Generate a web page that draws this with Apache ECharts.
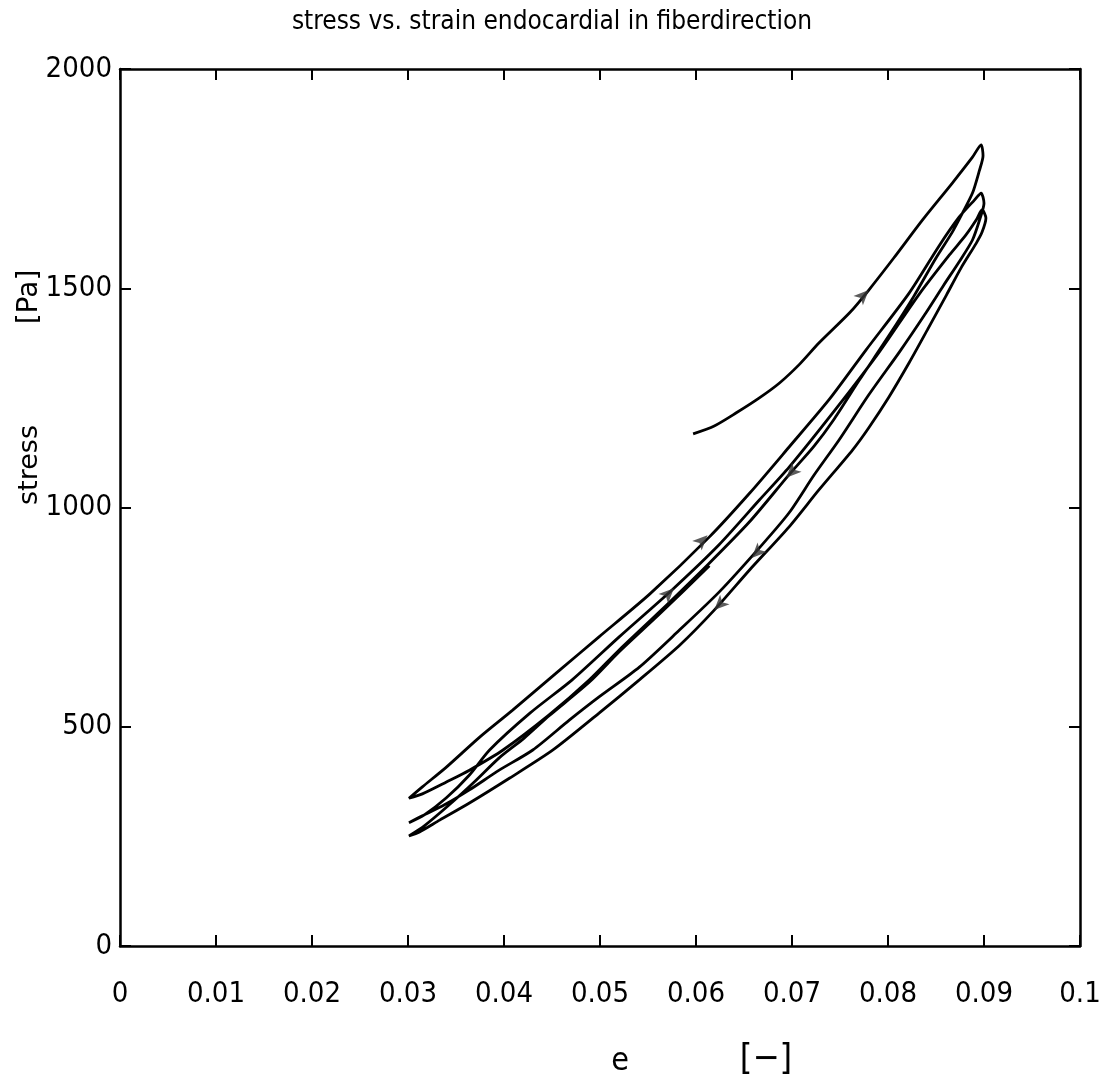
<!DOCTYPE html>
<html>
<head>
<meta charset="utf-8">
<script src="https://cdn.jsdelivr.net/npm/echarts/dist/echarts.min.js"></script>
<style>
  html, body { margin: 0; padding: 0; background: #fff; }
  #chartBox { width: 1104px; height: 1086px; }
</style>
</head>
<body>
<div id="chartBox"></div>
<script>
// strain e [-] vs stress [Pa], one array per branch
var loadStart = [[0.0597,1168],[0.0619,1186],[0.0642,1216],[0.0666,1250],[0.0687,1284],[0.0708,1327],[0.0728,1375],[0.0760,1444],[0.0780,1496],[0.0806,1569],[0.0836,1656],[0.0867,1740],[0.0888,1799],[0.0897,1827]];
var unload1 = [[0.0899,1802],[0.0895,1767],[0.0888,1717],[0.0877,1669],[0.0867,1628],[0.0850,1569],[0.0827,1482],[0.0801,1392],[0.0770,1290],[0.0744,1202],[0.0723,1140],[0.0697,1075],[0.0656,968],[0.0612,869],[0.0562,762],[0.0520,675],[0.0489,607],[0.0447,527],[0.0399,447],[0.0364,401],[0.0340,374],[0.0315,347],[0.0301,337]];
var load2 = [[0.0315,363],[0.0340,408],[0.0375,477],[0.0409,538],[0.0458,629],[0.0499,705],[0.0552,803],[0.0614,933],[0.0656,1033],[0.0697,1138],[0.0739,1247],[0.0777,1359],[0.0822,1489],[0.0853,1596],[0.0874,1662],[0.0890,1701],[0.0897,1717]];
var unload2 = [[0.0900,1694],[0.0896,1660],[0.0888,1610],[0.0874,1560],[0.0858,1507],[0.0838,1439],[0.0812,1355],[0.0780,1257],[0.0749,1154],[0.0723,1074],[0.0697,988],[0.0666,908],[0.0624,807],[0.0583,721],[0.0541,636],[0.0499,568],[0.0468,515],[0.0430,447],[0.0395,401],[0.0364,356],[0.0338,322],[0.0315,297],[0.0301,281]];
var load3 = [[0.0317,299],[0.0340,338],[0.0364,390],[0.0385,447],[0.0427,531],[0.0471,607],[0.0520,705],[0.0575,812],[0.0624,915],[0.0666,1017],[0.0697,1092],[0.0749,1234],[0.0791,1355],[0.0832,1485],[0.0864,1576],[0.0881,1621],[0.0892,1656],[0.0898,1679]];
var unload3 = [[0.0902,1660],[0.0898,1628],[0.0892,1603],[0.0876,1546],[0.0861,1485],[0.0841,1405],[0.0822,1330],[0.0801,1252],[0.0780,1182],[0.0763,1131],[0.0728,1040],[0.0697,956],[0.0656,858],[0.0619,766],[0.0583,686],[0.0541,607],[0.0499,531],[0.0451,447],[0.0406,383],[0.0364,326],[0.0333,287],[0.0312,260],[0.0301,251]];
var load4 = [[0.0317,274],[0.0343,322],[0.0369,374],[0.0395,429],[0.0421,474],[0.0447,525],[0.0489,602],[0.0520,671],[0.0562,757],[0.0614,867]];

// direction arrows on the branches
var arrowsUp = [[0.0780,1496],[0.0612,937],[0.0577,816]];
var arrowsDown = [[0.0694,1068],[0.0658,885],[0.0619,766]];

var xMin = 0, xMax = 0.1, xStep = 0.01;
var yMin = 0, yMax = 2000, yStep = 500;

var path = [].concat(loadStart, unload1, load2, unload2, load3, unload3, load4);

var narrow = "'Liberation Sans Narrow', 'DejaVu Sans Condensed', sans-serif";

function axisCommon(pos, showLabel) {
    return {
        type: 'value',
        position: pos,
        splitLine: { show: false },
        axisLine: { show: true, onZero: false, lineStyle: { color: '#000', width: 2.5 } },
        axisTick: { show: true, inside: true, length: 11, lineStyle: { color: '#000', width: 2 } },
        axisLabel: {
            show: showLabel, color: '#000', fontFamily: narrow, fontSize: 29,
            formatter: function (v) { return String(v); }
        }
    };
}

var xBottom = Object.assign(axisCommon('bottom', true), { min: xMin, max: xMax, interval: xStep });
xBottom.axisLabel.margin = 34;
var xTop = Object.assign(axisCommon('top', false), { min: xMin, max: xMax, interval: xStep });
var yLeft = Object.assign(axisCommon('left', true), { min: yMin, max: yMax, interval: yStep });
yLeft.axisLabel.margin = 8;
var yRight = Object.assign(axisCommon('right', false), { min: yMin, max: yMax, interval: yStep });

var option = {
    backgroundColor: '#fff',
    animation: false,
    title: {
        text: 'stress vs. strain endocardial in fiberdirection',
        left: 'center',
        top: 4,
        textStyle: { color: '#000', fontFamily: narrow, fontSize: 26, fontWeight: 'normal' }
    },
    grid: { left: 120, right: 24, top: 69, bottom: 140 },
    xAxis: [xBottom, xTop],
    yAxis: [yLeft, yRight],
    graphic: [
        { type: 'text', x: 30, y: 465, rotation: Math.PI / 2,
          style: { text: 'stress', fill: '#000', font: "27px 'DejaVu Sans'", align: 'center', verticalAlign: 'middle' } },
        { type: 'text', x: 30, y: 297, rotation: Math.PI / 2,
          style: { text: '[Pa]', fill: '#000', font: "28px 'DejaVu Sans'", align: 'center', verticalAlign: 'middle' } },
        { type: 'text', x: 620, y: 1062,
          style: { text: 'e', fill: '#000', font: "32px " + narrow, align: 'center', verticalAlign: 'middle' } },
        { type: 'text', x: 766, y: 1060,
          style: { text: '[\u2212]', fill: '#000', font: "36px " + narrow, align: 'center', verticalAlign: 'middle' } }
    ],
    series: [
        {
            type: 'line',
            data: path,
            showSymbol: false,
            smooth: 0.25,
            lineStyle: { color: '#000', width: 2.8 },
            z: 2
        },
        {
            type: 'scatter',
            data: arrowsUp,
            symbol: 'arrow',
            symbolSize: [10, 15],
            symbolRotate: -45,
            itemStyle: { color: '#333' },
            z: 3
        },
        {
            type: 'scatter',
            data: arrowsDown,
            symbol: 'arrow',
            symbolSize: [10, 15],
            symbolRotate: 135,
            itemStyle: { color: '#333' },
            z: 3
        }
    ]
};

var chart = echarts.init(document.getElementById('chartBox'));
chart.setOption(option);
</script>
</body>
</html>
